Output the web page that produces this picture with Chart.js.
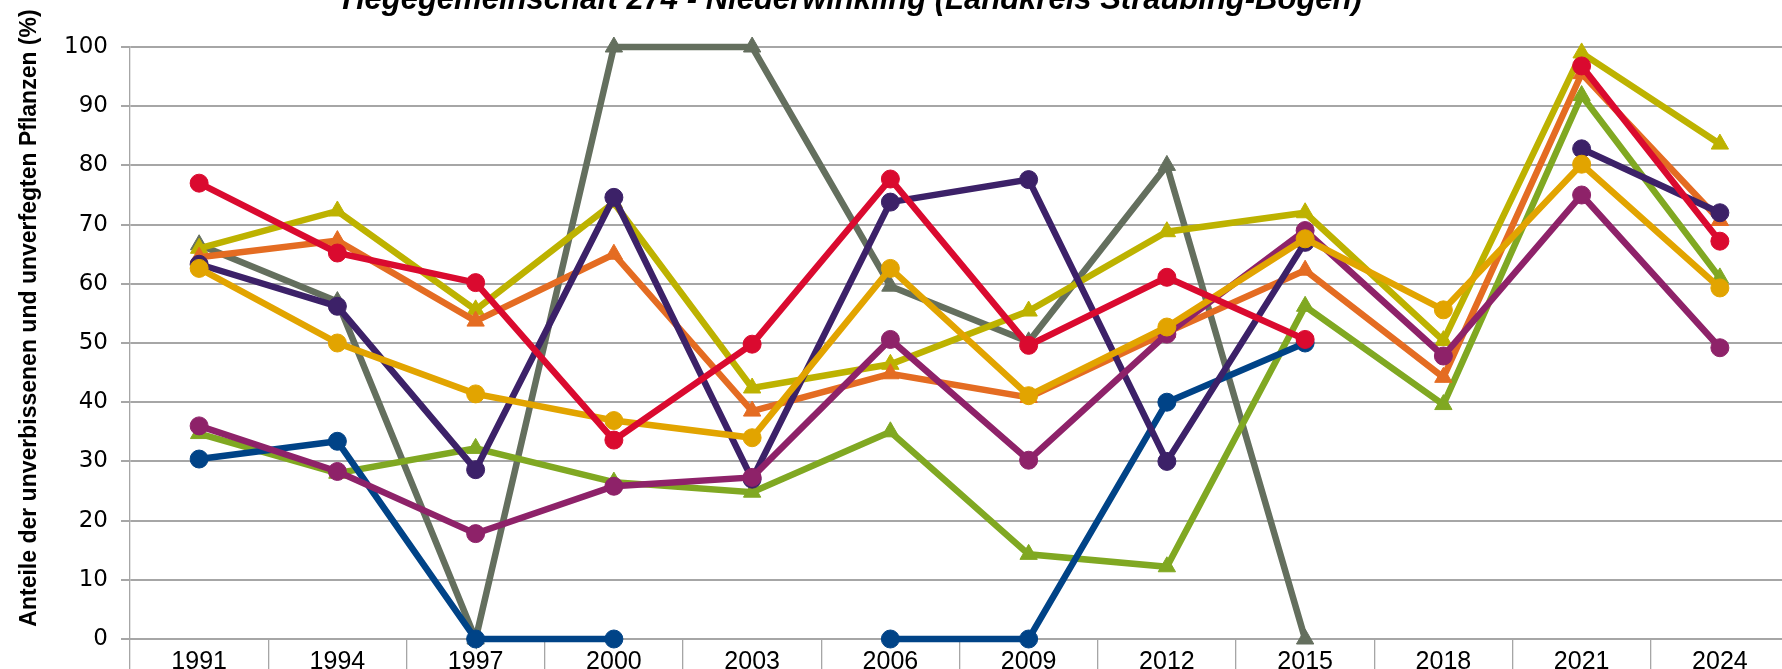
<!DOCTYPE html>
<html>
<head>
<meta charset="utf-8">
<script src="https://cdn.jsdelivr.net/npm/chart.js@4.4.1/dist/chart.umd.min.js"></script>
<style>
    html, body { margin: 0; padding: 0; background: #fff; overflow: hidden; }
    #wrap { position: absolute; left: 0; top: 0; width: 1800px; height: 700px; }
</style>
</head>
<body>
<div id="wrap"><canvas id="verbiss"></canvas></div>
<script>
// Aufnahmejahre
const years = ["1991", "1994", "1997", "2000", "2003", "2006", "2009", "2012", "2015", "2018", "2021", "2024"];
const yTicks = [0, 10, 20, 30, 40, 50, 60, 70, 80, 90, 100];

// Anteile je Baumart (%)
const seriesRed     = [77, 65.2, 60.2, 33.6, 49.8, 77.7, 49.6, 61.1, 50.6, null, 96.8, 67.2];
const seriesGold    = [62.6, 50, 41.4, 36.9, 34, 62.6, 41.1, 52.7, 67.6, 55.6, 80.2, 59.3];
const seriesMagenta = [36, 28.3, 17.8, 25.8, 27.3, 50.6, 30.2, 51.5, 69, 47.8, 75, 49.2];
const seriesPurple  = [63.3, 56.2, 28.6, 74.6, 27, 73.8, 77.6, 30, 67, null, 82.8, 72];
const seriesBlue    = [30.4, 33.4, 0, 0, null, 0, 0, 40, 50, null, null, null];
const seriesOrange  = [64.5, 67.3, 53.7, 65, 38.5, 44.8, 40.8, 51.8, 62.3, 44.2, 95.5, 70.7];
const seriesOlive   = [66, 72.3, 55.6, 73.7, 42.4, 46.4, 55.4, 68.8, 72, 50.4, 99, 83.6];
const seriesGreen   = [34.7, 28, 32.2, 26.5, 24.8, 35, 14.3, 12.2, 56.2, 39.6, 91.8, 61];
const seriesGray    = [66.6, 57, 0, 100, 100, 59.6, 50.2, 80, 0, null, null, null];

const chartTitle = "Hegegemeinschaft 274 - Niederwinkling (Landkreis Straubing-Bogen)";
const yTitle = "Anteile der unverbissenen und unverfegten Pflanzen (%)";

function line(label, data, color, style) {
    return {
        label: label,
        data: data,
        borderColor: color,
        backgroundColor: color,
        pointBackgroundColor: color,
        pointBorderColor: color,
        borderWidth: 6.5,
        pointStyle: style,
        pointRadius: style === "triangle" ? 10 : 9,
        pointBorderWidth: 1,
        tension: 0,
        clip: false
    };
}

// titles sit partly outside the picture, drawn by hand
const titlesPlugin = {
    id: "titles",
    afterDraw(chart) {
        const ctx = chart.ctx;
        ctx.save();
        ctx.fillStyle = "#000";
        ctx.font = "italic bold 31px 'Liberation Sans', Arial, sans-serif";
        ctx.textAlign = "center";
        ctx.textBaseline = "alphabetic";
        ctx.fillText(chartTitle, 852, 8.5);

        ctx.font = "bold 23px 'Liberation Sans', Arial, sans-serif";
        ctx.translate(36, 318);
        ctx.rotate(-Math.PI / 2);
        ctx.fillText(yTitle, 0, 0);
        ctx.restore();
    }
};

Chart.defaults.font.family = "'Liberation Sans', Arial, sans-serif";
Chart.defaults.color = "#000";

new Chart(document.getElementById("verbiss"), {
    type: "line",
    data: {
        labels: years,
        datasets: [
            line("Reihe 1", seriesRed, "#DA0A2F", "circle"),
            line("Reihe 2", seriesGold, "#E2A400", "circle"),
            line("Reihe 3", seriesMagenta, "#8E2269", "circle"),
            line("Reihe 4", seriesPurple, "#3C2168", "circle"),
            line("Reihe 5", seriesBlue, "#004387", "circle"),
            line("Reihe 6", seriesOrange, "#E46C22", "triangle"),
            line("Reihe 7", seriesOlive, "#BDB200", "triangle"),
            line("Reihe 8", seriesGreen, "#80A822", "triangle"),
            line("Reihe 9", seriesGray, "#646F5E", "triangle")
        ]
    },
    options: {
        responsive: true,
        maintainAspectRatio: false,
        animation: false,
        events: [],
        layout: { padding: { left: 0, top: 47, right: 5, bottom: 0 } },
        plugins: {
            legend: { display: false },
            title: { display: false },
            tooltip: { enabled: false }
        },
        scales: {
            x: {
                offset: true,
                grid: {
                    offset: true,
                    drawOnChartArea: false,
                    color: "#A6A6A6",
                    lineWidth: 1.3,
                    tickLength: 32
                },
                border: { color: "#A6A6A6", width: 2 },
                ticks: {
                    padding: -24,
                    font: { size: 25 },
                    maxRotation: 0,
                    autoSkip: false
                },
                afterFit(scale) { scale.height = 61; }
            },
            y: {
                min: 0,
                max: 100,
                afterBuildTicks(scale) { scale.ticks = yTicks.map(v => ({ value: v })); },
                grid: {
                    color: "#A6A6A6",
                    lineWidth: 2,
                    tickLength: 9
                },
                border: { color: "#A6A6A6", width: 1.3 },
                ticks: {
                    padding: 13,
                    font: { family: "'DejaVu Sans', Verdana, sans-serif", size: 23 }
                },
                afterFit(scale) { scale.width = 130; }
            }
        }
    },
    plugins: [titlesPlugin]
});
</script>
</body>
</html>
